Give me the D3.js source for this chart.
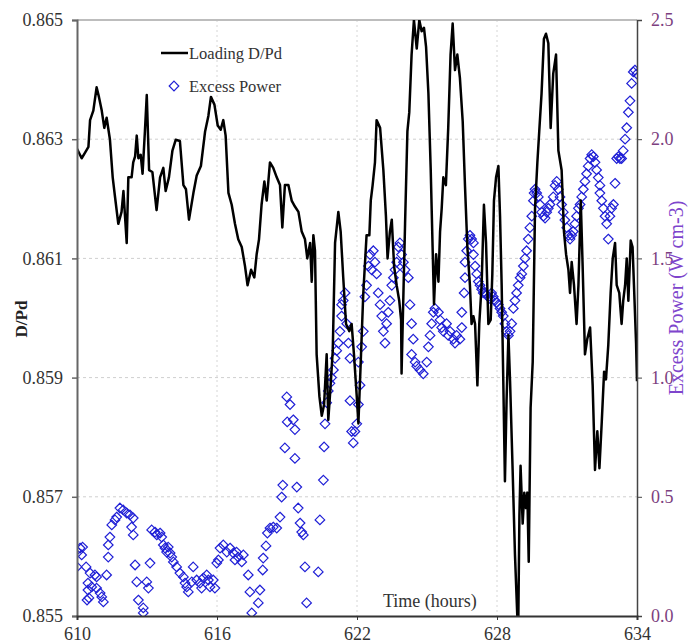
<!DOCTYPE html>
<html>
<head>
<meta charset="utf-8">
<script src="https://cdn.jsdelivr.net/npm/d3@7"></script>
<style>
	body { margin: 0; background: #fff; }
	text { font-family: "Liberation Serif", "Times New Roman", serif; }
</style>
</head>
<body>
<svg id="chart" width="690" height="644"></svg>
<script>

// loading D/Pd (black line)
var loadTime = [610.00,610.20,610.34,610.49,610.56,610.70,610.84,610.94,611.06,611.17,611.27,611.41,611.53,611.63,611.77,611.91,611.99,612.13,612.20,612.34,
	612.41,612.49,612.56,612.63,612.73,612.81,612.91,612.99,613.09,613.23,613.41,613.56,613.70,613.80,613.94,614.09,614.23,614.41,614.56,614.67,
	614.80,614.99,615.13,615.31,615.49,615.63,615.74,615.89,616.03,616.16,616.27,616.37,616.49,616.63,616.77,616.91,617.06,617.20,617.31,617.46,
	617.60,617.70,617.80,617.91,618.03,618.13,618.27,618.41,618.56,618.70,618.80,618.91,619.06,619.20,619.34,619.49,619.63,619.77,619.87,619.99,
	620.06,620.13,620.20,620.27,620.39,620.49,620.59,620.70,620.77,620.87,620.96,621.06,621.20,621.30,621.41,621.53,621.67,621.77,621.87,621.99,
	622.06,622.16,622.27,622.41,622.53,622.59,622.67,622.77,622.84,622.99,623.13,623.24,623.31,623.41,623.49,623.59,623.70,623.81,623.89,623.91,
	623.99,624.06,624.16,624.24,624.34,624.44,624.56,624.67,624.77,624.87,624.96,625.06,625.16,625.24,625.30,625.39,625.49,625.56,625.63,625.70,
	625.81,625.91,626.01,626.10,626.20,626.30,626.41,626.53,626.63,626.73,626.84,626.91,626.99,627.06,627.16,627.24,627.34,627.44,627.53,627.63,
	627.73,627.80,627.87,627.96,628.06,628.13,628.20,628.27,628.34,628.41,628.49,628.56,628.67,628.77,628.87,628.91,628.96,629.01,629.10,629.17,
	629.24,629.30,629.36,629.44,629.53,629.63,629.73,629.81,629.91,630.01,630.10,630.20,630.30,630.41,630.53,630.63,630.77,630.87,630.96,631.06,
	631.13,631.20,631.30,631.41,631.49,631.59,631.67,631.77,631.87,631.99,632.10,632.20,632.30,632.39,632.49,632.59,632.67,632.77,632.87,632.96,
	633.06,633.13,633.24,633.34,633.41,633.49,633.56,633.63,633.73,633.81,633.87,633.96,634.00];
var loadDPd = [0.86284,0.86268,0.86277,0.86287,0.86332,0.86348,0.86387,0.86371,0.86348,0.86319,0.86336,0.86300,0.86236,0.86203,0.86158,0.86178,0.86213,0.86126,0.86236,0.86236,
	0.86261,0.86271,0.86306,0.86268,0.86274,0.86242,0.86313,0.86374,0.86248,0.86245,0.86181,0.86236,0.86252,0.86213,0.86236,0.86281,0.86299,0.86297,0.86223,0.86216,
	0.86165,0.86210,0.86239,0.86255,0.86313,0.86339,0.86371,0.86358,0.86323,0.86316,0.86332,0.86306,0.86210,0.86190,0.86158,0.86132,0.86119,0.86087,0.86055,0.86081,
	0.86068,0.86107,0.86132,0.86190,0.86229,0.86197,0.86261,0.86252,0.86236,0.86223,0.86152,0.86223,0.86223,0.86197,0.86187,0.86178,0.86145,0.86132,0.86100,0.86126,
	0.86061,0.86139,0.86113,0.85939,0.85868,0.85836,0.85855,0.85939,0.85829,0.85887,0.85945,0.86126,0.86178,0.86145,0.86068,0.85990,0.85978,0.85990,0.85939,0.85868,
	0.85823,0.85926,0.86042,0.86139,0.86139,0.86197,0.86223,0.86261,0.86332,0.86319,0.86248,0.86171,0.86100,0.86145,0.86165,0.86087,0.86055,0.86029,0.85997,0.85907,
	0.86042,0.86158,0.86313,0.86345,0.86442,0.86500,0.86452,0.86500,0.86481,0.86487,0.86455,0.86377,0.86248,0.86119,0.86023,0.86107,0.86061,0.86145,0.86184,0.86236,
	0.86223,0.86319,0.86442,0.86494,0.86416,0.86442,0.86403,0.86330,0.86220,0.86119,0.86055,0.85990,0.86003,0.85990,0.85887,0.85990,0.86055,0.86190,0.86126,0.85990,
	0.85997,0.86074,0.86197,0.86236,0.86255,0.86171,0.86055,0.85894,0.85726,0.85861,0.85971,0.85894,0.85745,0.85603,0.85500,0.85480,0.85668,0.85752,0.85655,0.85707,
	0.85681,0.85707,0.85591,0.85849,0.85926,0.86184,0.86261,0.86313,0.86377,0.86468,0.86477,0.86461,0.86319,0.86410,0.86442,0.86281,0.86248,0.86145,0.86107,0.86081,
	0.86042,0.86094,0.86055,0.85990,0.86055,0.86197,0.86087,0.85939,0.85965,0.85984,0.85887,0.85745,0.85810,0.85748,0.85826,0.85910,0.85897,0.85955,0.86042,0.86100,
	0.86126,0.86055,0.86042,0.85990,0.86029,0.86055,0.86100,0.86029,0.86130,0.86119,0.86055,0.85958,0.85894];

// excess power (blue diamonds)
var powerTime = [610.13,610.24,610.04,610.20,610.00,610.39,610.56,610.77,610.84,610.47,610.63,610.47,610.51,610.43,610.84,610.99,611.06,611.13,611.27,611.34,
	611.34,611.41,611.49,611.63,611.70,611.84,611.98,612.13,612.27,612.41,612.34,612.41,612.49,612.56,612.63,612.84,612.84,612.99,613.06,613.13,
	613.20,613.34,613.42,613.56,613.63,613.70,613.77,613.84,613.91,613.99,614.06,614.13,614.27,614.41,614.56,614.63,614.70,614.77,614.92,614.98,
	615.13,615.27,615.34,615.41,615.56,615.63,615.70,615.84,615.91,615.99,616.06,616.13,616.27,616.42,616.56,616.70,616.84,616.91,617.13,616.77,
	617.06,617.34,617.41,617.77,617.49,617.84,617.96,617.98,618.10,618.16,618.27,618.41,618.56,618.70,618.77,618.82,618.91,619.01,618.99,619.13,
	619.27,619.34,619.34,619.42,619.48,619.56,619.63,619.70,619.77,619.84,620.34,620.41,620.56,620.59,620.63,620.70,620.77,620.84,620.91,620.99,
	621.06,621.13,621.20,621.27,621.34,621.41,621.49,621.34,621.56,621.63,621.70,621.70,621.77,621.84,621.91,621.99,622.06,622.13,622.06,622.20,
	622.27,622.34,622.41,622.49,622.56,622.70,622.77,622.63,622.84,622.91,622.99,623.06,623.13,623.20,623.27,623.34,623.41,623.49,623.56,623.63,
	623.70,623.77,623.84,623.91,623.99,624.06,624.20,624.27,624.34,624.41,624.34,624.49,624.56,624.70,624.84,624.99,625.06,625.13,625.20,625.27,
	625.34,625.49,625.56,625.63,625.70,625.84,625.91,625.99,626.13,626.20,626.27,626.41,626.49,626.49,626.59,626.63,626.63,626.70,626.77,626.84,
	626.91,626.99,626.99,627.06,627.13,627.20,627.27,627.34,627.41,627.49,627.56,627.63,627.70,627.77,627.84,627.91,627.99,628.06,628.13,628.20,
	628.27,628.34,628.41,628.49,628.56,628.63,628.70,628.77,628.84,628.91,628.99,629.06,629.13,629.20,629.27,629.34,629.41,629.49,629.56,629.59,
	629.63,629.70,629.77,629.84,629.91,629.99,630.06,630.13,630.20,630.27,630.41,630.49,630.56,630.63,630.70,630.77,630.84,630.91,630.99,631.06,
	631.13,631.20,631.27,631.34,631.41,631.49,631.56,631.63,631.70,631.77,631.84,631.91,631.99,632.06,632.13,632.20,632.27,632.34,632.41,632.41,
	632.49,632.56,632.63,632.70,632.77,632.84,632.91,632.99,633.06,633.13,633.20,633.27,633.34,633.41,633.49,633.56,633.63,633.70,633.77,633.84,
	633.91,633.99];
var powerValue = [0.285,0.289,0.268,0.256,0.206,0.206,0.180,0.172,0.164,0.138,0.122,0.109,0.076,0.067,0.117,0.096,0.080,0.059,0.172,0.247,
	0.298,0.331,0.382,0.403,0.415,0.453,0.445,0.432,0.424,0.411,0.373,0.340,0.214,0.143,0.067,0.034,0.013,0.143,0.117,0.222,
	0.361,0.352,0.340,0.348,0.331,0.298,0.285,0.268,0.289,0.264,0.247,0.227,0.206,0.180,0.164,0.138,0.122,0.101,0.143,0.206,
	0.151,0.138,0.117,0.159,0.172,0.151,0.122,0.151,0.117,0.222,0.235,0.285,0.298,0.268,0.285,0.264,0.268,0.247,0.256,0.235,
	0.227,0.172,0.101,0.055,0.013,0.109,0.193,0.243,0.294,0.348,0.369,0.373,0.369,0.415,0.499,0.549,0.705,0.814,0.919,0.887,
	0.823,0.782,0.661,0.541,0.453,0.390,0.352,0.340,0.206,0.055,0.185,0.403,0.570,0.709,0.806,0.895,0.944,0.976,1.000,1.032,
	1.081,1.113,1.145,1.194,1.258,1.323,1.355,1.306,1.226,1.145,1.081,0.903,0.774,0.726,0.774,0.806,0.887,0.968,1.065,1.129,
	1.194,1.339,1.387,1.468,1.516,1.532,1.484,1.452,1.435,1.355,1.306,1.258,1.194,1.145,1.226,1.274,1.323,1.387,1.419,1.452,
	1.484,1.548,1.565,1.516,1.484,1.452,1.419,1.306,1.226,1.161,1.097,1.065,1.048,1.032,1.016,1.065,1.129,1.177,1.226,1.274,
	1.290,1.274,1.242,1.210,1.194,1.226,1.177,1.194,1.161,1.145,1.177,1.161,1.210,1.274,1.355,1.419,1.484,1.532,1.581,1.597,
	1.581,1.565,1.516,1.468,1.435,1.403,1.387,1.371,1.355,1.355,1.347,1.339,1.331,1.355,1.339,1.323,1.315,1.306,1.290,1.274,
	1.258,1.226,1.194,1.177,1.194,1.226,1.290,1.323,1.355,1.387,1.419,1.435,1.468,1.500,1.532,1.581,1.629,1.677,1.742,1.774,
	1.790,1.774,1.758,1.726,1.694,1.677,1.669,1.694,1.710,1.726,1.758,1.806,1.823,1.790,1.758,1.726,1.694,1.661,1.629,1.597,
	1.581,1.597,1.613,1.645,1.677,1.710,1.726,1.758,1.790,1.823,1.855,1.887,1.919,1.935,1.927,1.903,1.871,1.839,1.806,1.774,
	1.742,1.710,1.677,1.645,1.581,1.677,1.710,1.726,1.815,1.919,1.927,1.919,1.919,1.952,2.000,2.048,2.113,2.161,2.234,2.282,
	2.290,2.274];

var timeTicks = [610, 616, 622, 628, 634];
var dpdTicks = [0.855, 0.857, 0.859, 0.861, 0.863, 0.865];
var powerTicks = [0.0, 0.5, 1.0, 1.5, 2.0, 2.5];

var width = 690,
	height = 644,
	margin = {top: 20, right: 53, bottom: 28, left: 77};

var svg = d3.select("#chart");

var x = d3.scaleLinear().domain([610, 634]).range([margin.left, width - margin.right]);
var yLeft = d3.scaleLinear().domain([0.855, 0.865]).range([height - margin.bottom, margin.top]);
var yRight = d3.scaleLinear().domain([0, 2.5]).range([height - margin.bottom, margin.top]);

var x0 = x.range()[0], x1 = x.range()[1],
	yB = yLeft.range()[0], yT = yLeft.range()[1];

svg.append("defs").append("clipPath").attr("id", "plot")
	.append("rect")
	.attr("x", x0).attr("y", yT)
	.attr("width", x1 - x0).attr("height", yB - yT);

// grid lines
svg.append("g").selectAll("line")
	.data(dpdTicks.slice(1, -1))
	.enter().append("line")
	.attr("x1", x0).attr("x2", x1)
	.attr("y1", function(d) { return yLeft(d); })
	.attr("y2", function(d) { return yLeft(d); })
	.attr("stroke", "#cfcfcf")
	.attr("stroke-dasharray", "3,3");

svg.append("g").selectAll("line")
	.data(timeTicks.slice(1, -1))
	.enter().append("line")
	.attr("y1", yT).attr("y2", yB)
	.attr("x1", function(d) { return x(d); })
	.attr("x2", function(d) { return x(d); })
	.attr("stroke", "#d6d6d6")
	.attr("stroke-dasharray", "2,3");

// top border
svg.append("line")
	.attr("x1", x0).attr("x2", x1)
	.attr("y1", yT).attr("y2", yT)
	.attr("stroke", "#bdbdbd").attr("stroke-width", 2);

// excess power diamonds
var power = powerTime.map(function(t, i) { return [t, powerValue[i]]; });
svg.append("g")
	.attr("clip-path", "url(#plot)")
	.selectAll("path")
	.data(power)
	.enter().append("path")
	.attr("d", "M0,-4.8L4.8,0L0,4.8L-4.8,0Z")
	.attr("transform", function(d) { return "translate(" + x(d[0]) + "," + yRight(d[1]) + ")"; })
	.attr("fill", "none")
	.attr("stroke", "#1f1fd6")
	.attr("stroke-width", 1.2);

// loading line
var loading = loadTime.map(function(t, i) { return [t, loadDPd[i]]; });
svg.append("path")
	.datum(loading)
	.attr("clip-path", "url(#plot)")
	.attr("d", d3.line()
		.x(function(d) { return x(d[0]); })
		.y(function(d) { return yLeft(d[1]); }))
	.attr("fill", "none")
	.attr("stroke", "#000")
	.attr("stroke-width", 2.5)
	.attr("stroke-linejoin", "round");

// axes
var leftAxis = svg.append("g")
	.attr("transform", "translate(" + x0 + ",0)")
	.call(d3.axisLeft(yLeft).tickValues(dpdTicks).tickFormat(d3.format(".3f")).tickSize(5).tickPadding(9));
leftAxis.select(".domain").attr("stroke", "#666").attr("stroke-width", 2);
leftAxis.selectAll(".tick line").attr("stroke", "#666").attr("stroke-width", 1.5);
leftAxis.selectAll("text").style("font-size", "18px").attr("fill", "#333");

var rightAxis = svg.append("g")
	.attr("transform", "translate(" + x1 + ",0)")
	.call(d3.axisRight(yRight).tickValues(powerTicks).tickFormat(d3.format(".1f")).tickSize(5).tickPadding(9));
rightAxis.select(".domain").attr("stroke", "#444").attr("stroke-width", 1.5);
rightAxis.selectAll(".tick line").attr("stroke", "#444");
rightAxis.selectAll("text").style("font-size", "18px").attr("fill", "#7d3f80");

var bottomAxis = svg.append("g")
	.attr("transform", "translate(0," + yB + ")")
	.call(d3.axisBottom(x).tickValues(timeTicks).tickFormat(d3.format("d")).tickSize(4).tickPadding(7));
bottomAxis.select(".domain").attr("stroke", "#333").attr("stroke-width", 2);
bottomAxis.selectAll(".tick line").attr("stroke", "#333");
bottomAxis.selectAll("text").style("font-size", "18px").attr("fill", "#333");

// axis titles
svg.append("text")
	.attr("transform", "translate(27," + 319 + ") rotate(-90)")
	.attr("text-anchor", "middle")
	.style("font-size", "17px")
	.style("font-weight", "bold")
	.attr("fill", "#222")
	.text("D/Pd");

svg.append("text")
	.attr("transform", "translate(683," + 298 + ") rotate(-90)")
	.attr("text-anchor", "middle")
	.style("font-size", "20px")
	.attr("fill", "#7e45cc")
	.text("Excess Power (W cm-3)");

svg.append("text")
	.attr("x", 383).attr("y", 607)
	.style("font-size", "18px")
	.attr("fill", "#333")
	.text("Time (hours)");

// legend
var legend = svg.append("g");
legend.append("line")
	.attr("x1", 161).attr("x2", 188)
	.attr("y1", 53).attr("y2", 53)
	.attr("stroke", "#000").attr("stroke-width", 2.5);
legend.append("text")
	.attr("x", 189).attr("y", 59)
	.style("font-size", "16.5px")
	.attr("fill", "#333")
	.text("Loading D/Pd");
legend.append("path")
	.attr("d", "M0,-4.8L4.8,0L0,4.8L-4.8,0Z")
	.attr("transform", "translate(174,86)")
	.attr("fill", "none")
	.attr("stroke", "#1f1fd6")
	.attr("stroke-width", 1.2);
legend.append("text")
	.attr("x", 189).attr("y", 92)
	.style("font-size", "16.5px")
	.attr("fill", "#333")
	.text("Excess Power");

</script>
</body>
</html>
